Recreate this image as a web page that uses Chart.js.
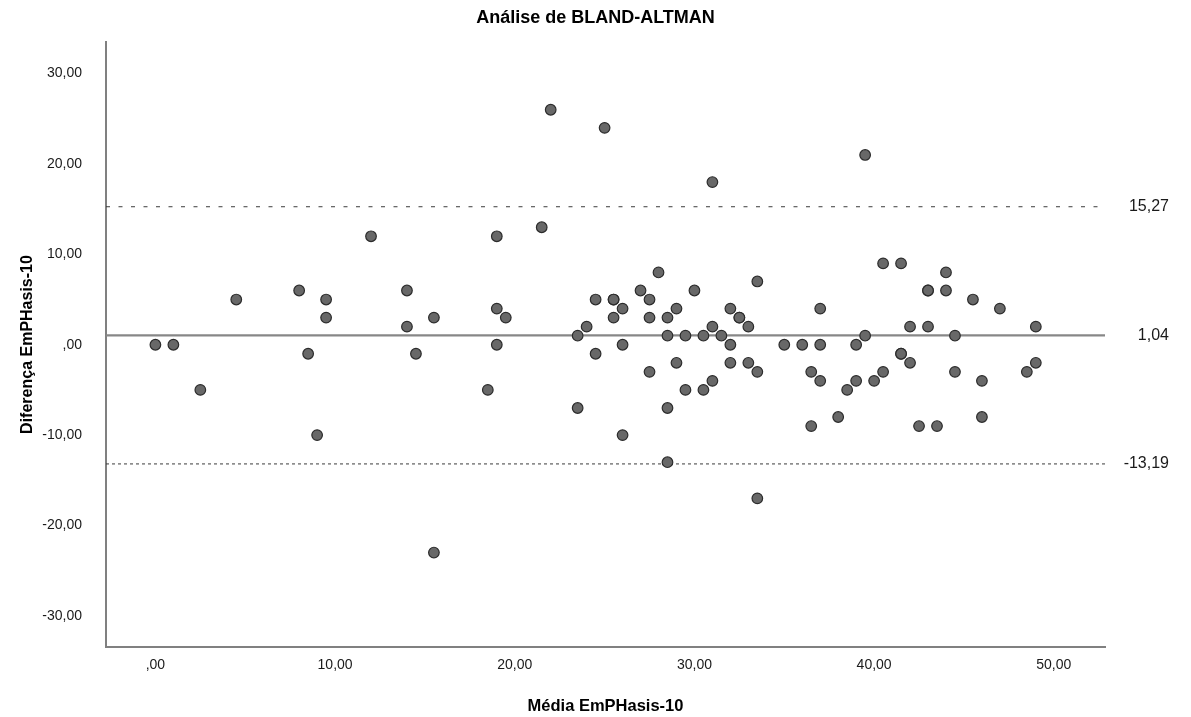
<!DOCTYPE html>
<html>
<head>
<meta charset="utf-8">
<script src="https://cdn.jsdelivr.net/npm/chart.js@4/dist/chart.umd.min.js"></script>
<style>
  html, body { margin: 0; padding: 0; background: #fff; }
  #wrap { width: 1191px; height: 717px; }
</style>
</head>
<body>
<div id="wrap"><canvas id="c" width="1191" height="717"></canvas></div>
<script>
// ---- Data ----
const meanValues = [0, 1, 2.5, 4.5, 8, 8.5, 9, 9.5, 9.5, 12,
  14, 14, 14.5, 15.5, 15.5, 18.5, 19, 19, 19, 19.5,
  21.5, 22, 23.5, 23.5, 24, 24.5, 24.5, 25, 25.5, 25.5,
  25.5, 26, 26, 26, 27, 27.5, 27.5, 27.5, 28, 28.5,
  28.5, 28.5, 28.5, 29, 29, 29.5, 29.5, 30, 30.5, 30.5,
  31, 31, 31, 31.5, 32, 32, 32, 32.5, 32.5, 33,
  33, 33.5, 33.5, 33.5, 35, 36, 36.5, 36.5, 37, 37,
  37, 38, 38.5, 39, 39, 39.5, 39.5, 40, 40.5, 40.5,
  41.5, 41.5, 41.5, 42, 42, 42.5, 43, 43, 43, 43.5,
  44, 44, 44.5, 44.5, 45.5, 46, 46, 47, 48.5, 49, 49];
const diffValues = [0, 0, -5, 5, 6, -1, -10, 5, 3, 12,
  6, 2, -1, 3, -23, -5, 12, 4, 0, 3,
  13, 26, 1, -7, 2, 5, -1, 24, 5, 5,
  3, 4, 0, -10, 6, 5, 3, -3, 8, 3,
  1, -7, -13, 4, -2, 1, -5, 6, 1, -5,
  18, 2, -4, 1, 4, 0, -2, 3, 3, 2,
  -2, 7, -3, -17, 0, 0, -3, -9, 4, 0,
  -4, -8, -5, 0, -4, 21, 1, -4, 9, -3,
  9, -1, -1, 2, -2, -9, 6, 6, 2, -9,
  8, 6, 1, -3, 5, -4, -8, 4, -3, 2, -2];
const limitValues = [15.27, 1.04, -13.19];
const limitLabels = ["15,27", "1,04", "-13,19"];
const xTickValues = [0, 10, 20, 30, 40, 50];
const xTickLabels = [",00", "10,00", "20,00", "30,00", "40,00", "50,00"];
const yTickValues = [-30, -20, -10, 0, 10, 20, 30];
const yTickLabels = ["-30,00", "-20,00", "-10,00", ",00", "10,00", "20,00", "30,00"];
const titleText = "Análise de BLAND-ALTMAN";
const xTitle = "Média EmPHasis-10";
const yTitle = "Diferença EmPHasis-10";

// ---- Axis ranges ----
const X_MIN = -2.75, X_MAX = 52.85;
const Y_MIN = -33.45, Y_MAX = 33.5;

const FONT = "'Liberation Sans', Arial, Helvetica, sans-serif";

const points = meanValues.map((x, i) => ({ x: x, y: diffValues[i] }));
const lineData = v => [{ x: X_MIN, y: v }, { x: X_MAX, y: v }];

const rightLabels = {
  id: 'rightLabels',
  afterDraw(chart) {
    const ctx = chart.ctx;
    const ys = chart.scales.y;
    ctx.save();
    ctx.font = "16px " + FONT;
    ctx.fillStyle = "#1a1a1a";
    ctx.textAlign = "right";
    ctx.textBaseline = "middle";
    limitValues.forEach((v, i) => {
      ctx.fillText(limitLabels[i], 1169, ys.getPixelForValue(v));
    });
    ctx.restore();
  }
};

new Chart(document.getElementById('c'), {
  type: 'scatter',
  data: {
    datasets: [
      {
        label: 'pontos',
        data: points,
        backgroundColor: '#686868',
        borderColor: '#2c2c2c',
        borderWidth: 1.2,
        pointRadius: 5.3,
        order: 0
      },
      {
        type: 'line',
        label: 'media',
        data: lineData(limitValues[1]),
        borderColor: '#878787',
        borderWidth: 2.2,
        pointRadius: 0,
        order: 1
      },
      {
        type: 'line',
        label: 'superior',
        data: lineData(limitValues[0]),
        borderColor: '#3c3c3c',
        borderWidth: 1,
        borderDash: [4, 8.5],
        pointRadius: 0,
        order: 2
      },
      {
        type: 'line',
        label: 'inferior',
        data: lineData(limitValues[2]),
        borderColor: '#3c3c3c',
        borderWidth: 1,
        borderDash: [3, 3],
        pointRadius: 0,
        order: 3
      }
    ]
  },
  options: {
    responsive: false,
    animation: false,
    devicePixelRatio: 1,
    layout: { padding: 0 },
    plugins: {
      legend: { display: false },
      tooltip: { enabled: false },
      title: {
        display: true,
        text: titleText,
        color: '#000',
        font: { family: FONT, size: 18, weight: 'bold' },
        padding: { top: 7, bottom: 13.4 }
      }
    },
    scales: {
      x: {
        type: 'linear',
        min: X_MIN,
        max: X_MAX,
        afterBuildTicks: s => { s.ticks = xTickValues.map(v => ({ value: v })); },
        afterFit: s => { s.height = 70; },
        grid: { display: false, drawTicks: false },
        border: { display: true, color: '#808080', width: 2 },
        ticks: {
          color: '#1a1a1a',
          font: { family: FONT, size: 14 },
          padding: 10,
          maxRotation: 0,
          callback: v => { const i = xTickValues.indexOf(v); return i >= 0 ? xTickLabels[i] : ''; }
        },
        title: {
          display: true,
          text: xTitle,
          color: '#000',
          font: { family: FONT, size: 16.5, weight: 'bold' },
          padding: { top: 0, bottom: 1 }
        }
      },
      y: {
        type: 'linear',
        min: Y_MIN,
        max: Y_MAX,
        afterBuildTicks: s => { s.ticks = yTickValues.map(v => ({ value: v })); },
        afterFit: s => { s.width = 106; },
        grid: { display: false, drawTicks: false },
        border: { display: true, color: '#808080', width: 2 },
        ticks: {
          color: '#1a1a1a',
          font: { family: FONT, size: 14 },
          padding: 24,
          callback: v => { const i = yTickValues.indexOf(v); return i >= 0 ? yTickLabels[i] : ''; }
        },
        title: {
          display: true,
          text: yTitle,
          color: '#000',
          font: { family: FONT, size: 16, weight: 'bold' },
          padding: { top: 18, bottom: 0 }
        }
      },
      yRight: {
        type: 'linear',
        position: 'right',
        display: true,
        min: Y_MIN,
        max: Y_MAX,
        afterFit: s => { s.width = 86; },
        grid: { display: false, drawTicks: false },
        border: { display: false },
        ticks: { display: false }
      }
    }
  },
  plugins: [rightLabels]
});
</script>
</body>
</html>
